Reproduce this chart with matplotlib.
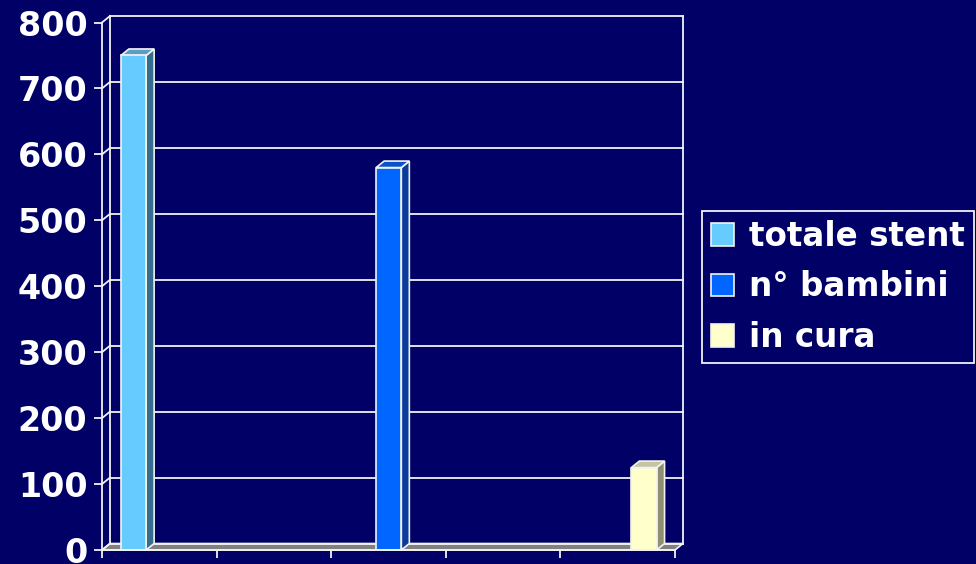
import matplotlib
matplotlib.use("Agg")
import matplotlib.pyplot as plt
from matplotlib.patches import Polygon, Patch
import numpy as np

# Series data
series_names = ["totale stent", "n° bambini", "in cura"]
series_values = [750, 580, 125]
y_ticks = [0, 100, 200, 300, 400, 500, 600, 700, 800]

# Face colours: front, side, top
front_colors = ["#66CCFF", "#0066FF", "#FFFFCC"]
side_colors = ["#356E8C", "#0A3A9C", "#8E8E70"]
top_colors = ["#5A9EC4", "#0A52C8", "#C4C4A2"]

BG = "#000066"
LINE = "#F2F2F2"

fig = plt.figure(figsize=(9.76, 5.64), dpi=100, facecolor=BG)
W, H = 976, 564
ax = fig.add_axes([102 / W, (564 - 550) / H, (675 - 102) / W, (550 - 22.5) / H])
ax.set_facecolor(BG)
ax.patch.set_alpha(0)

n_slots = 5
ax.set_xlim(0, n_slots)
ax.set_ylim(0, 800)

# depth of the 3D box in data units
DX = 8 / ((675 - 102) / n_slots)
DY = 6.5 / ((550 - 22.5) / 800)

# floor
floor = Polygon([(0, 0), (n_slots, 0), (n_slots + DX, DY), (DX, DY)],
                closed=True, facecolor="#808080", edgecolor=LINE, lw=1.2,
                clip_on=False, zorder=1)
ax.add_patch(floor)

# back-wall gridlines and side-wall diagonals
for v in y_ticks:
    ax.plot([DX, n_slots + DX], [v + DY, v + DY], color=LINE, lw=1.3,
            clip_on=False, zorder=1.5)
    ax.plot([0, DX], [v, v + DY], color=LINE, lw=1.3, clip_on=False, zorder=1.5)
ax.plot([DX, DX], [DY, 800 + DY], color=LINE, lw=1.3, clip_on=False, zorder=1.5)
ax.plot([n_slots + DX, n_slots + DX], [DY, 800 + DY], color=LINE, lw=1.3,
        clip_on=False, zorder=1.5)

# bars
width = 0.22
first_center = 0.275
step = 2.227
for i, (val, fc, sc, tc) in enumerate(zip(series_values, front_colors,
                                            side_colors, top_colors)):
    c = first_center + i * step
    x0, x1 = c - width / 2, c + width / 2
    side = Polygon([(x1, 0), (x1 + DX, DY), (x1 + DX, val + DY), (x1, val)],
                   closed=True, facecolor=sc, edgecolor=LINE, lw=1.2,
                   clip_on=False, zorder=3)
    top = Polygon([(x0, val), (x1, val), (x1 + DX, val + DY), (x0 + DX, val + DY)],
                  closed=True, facecolor=tc, edgecolor=LINE, lw=1.2,
                  clip_on=False, zorder=3)
    ax.add_patch(side)
    ax.add_patch(top)
    ax.bar(c, val, width=width, color=fc, edgecolor=LINE, lw=1.2,
           zorder=4, clip_on=False)

# axes styling
for s in ["top", "right"]:
    ax.spines[s].set_visible(False)
for s in ["left", "bottom"]:
    ax.spines[s].set_color(LINE)
    ax.spines[s].set_linewidth(1.3)
    ax.spines[s].set_zorder(5)

ax.set_yticks(y_ticks)
ax.set_yticklabels([str(v) for v in y_ticks])
ax.set_xticks(np.arange(0, n_slots + 1))
ax.set_xticklabels([])
ax.tick_params(axis="both", colors=LINE, length=5.5, width=1.3, direction="out")
ax.tick_params(axis="y", pad=5, labelsize=24, labelcolor="white")
for lab in ax.get_yticklabels():
    lab.set_fontweight("bold")

# legend
handles = [Patch(facecolor=c, edgecolor=LINE, lw=1.2) for c in front_colors]
leg = fig.legend(handles, series_names, loc="upper left",
                 bbox_to_anchor=(702 / W, 1 - 211 / H),
                 frameon=True, fancybox=False, facecolor=BG, edgecolor=LINE,
                 framealpha=1, prop={"weight": "bold", "size": 23.5},
                 handlelength=0.7, handleheight=0.7, handletextpad=0.45,
                 labelspacing=0.53, borderpad=0.28, borderaxespad=0)
leg.get_frame().set_linewidth(1.3)
for t in leg.get_texts():
    t.set_color("white")

fig.savefig("out.png", dpi=100, facecolor=BG)
